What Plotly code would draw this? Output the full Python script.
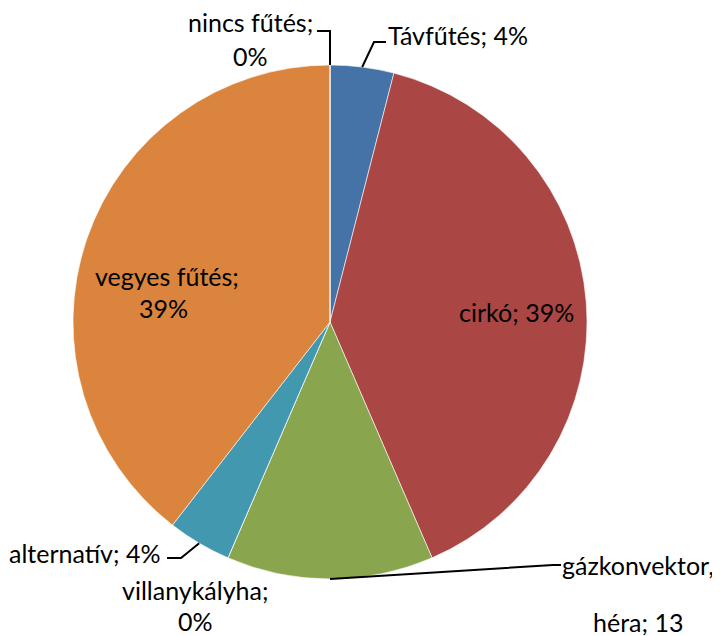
import math
import plotly.graph_objects as go

# ---- data ----
categories = ["Távfűtés", "cirkó", "gázkonvektor, héra", "villanykályha",
              "alternatív", "vegyes fűtés", "nincs fűtés"]
values = [4, 39.5, 13, 0, 4, 39.5, 0]
pct_labels = ["4%", "39%", "13", "0%", "4%", "39%", "0%"]
colors = ["#4572A7", "#AA4643", "#89A54E", "#80699B", "#4198AF", "#DB843D", "#93A9CF"]

OFF = 8                      # page body margin
W, H = 720 - OFF, 636 - OFF  # figure size
CX, CY, R = 330, 322, 257    # page pixel coordinates
FONT = "Lato"
FS = 25

def px(x):
    return (x - OFF) / W

def py(y):
    return 1 - (y - OFF) / H

fig = go.Figure(go.Pie(
    labels=categories,
    values=values,
    sort=False,
    direction="clockwise",
    rotation=0,
    textinfo="none",
    hoverinfo="label+percent",
    marker=dict(colors=colors, line=dict(color="white", width=0.6)),
    domain=dict(x=[px(CX - R), px(CX + R)], y=[py(CY + R), py(CY - R)]),
    showlegend=False,
))

# mid-angle edge points of each slice, derived from the data
total = sum(values)
edge = []
cum = 0
for v in values:
    mid = (cum + v / 2) / total * 2 * math.pi
    edge.append((CX + R * math.sin(mid), CY - R * math.cos(mid)))
    cum += v

annotations = []
def label(text, x, y):
    annotations.append(dict(text=text, x=px(x), y=py(y), xref="paper", yref="paper",
                            xanchor="center", yanchor="middle", showarrow=False,
                            font=dict(family=FONT, size=FS, color="black")))

label(categories[0] + "; " + pct_labels[0], 458, 35)
label(categories[1] + "; " + pct_labels[1], 516, 312)
label("gázkonvektor,", 638, 565)
label("héra; " + pct_labels[2], 638, 622)
label(categories[3] + ";", 195, 590)
label(pct_labels[3], 195, 621)
label(categories[4] + "; " + pct_labels[4], 85, 553)
label(categories[5] + ";", 167, 276)
label(pct_labels[5], 163, 308)
label(categories[6] + ";", 250, 22)
label(pct_labels[6], 250, 56)

# leader lines: start at slice edge (from data), end at label
leaders = [
    (0, [(374, 42), (386, 42)]),
    (2, [(553, 565), (561, 565)]),
    (4, [(181, 558), (167, 558)]),
    (6, [(330, 31), (317, 31)]),
]
shapes = []
for idx, pts in leaders:
    sx, sy = edge[idx]
    path = "M %f %f" % (px(sx), py(sy))
    for (x, y) in pts:
        path += " L %f %f" % (px(x), py(y))
    shapes.append(dict(type="path", path=path, xref="paper", yref="paper",
                       line=dict(color="black", width=2)))

fig.update_layout(
    width=W, height=H,
    margin=dict(l=0, r=0, t=0, b=0),
    paper_bgcolor="white",
    plot_bgcolor="white",
    annotations=annotations,
    shapes=shapes,
)

fig.write_html("out.html")
